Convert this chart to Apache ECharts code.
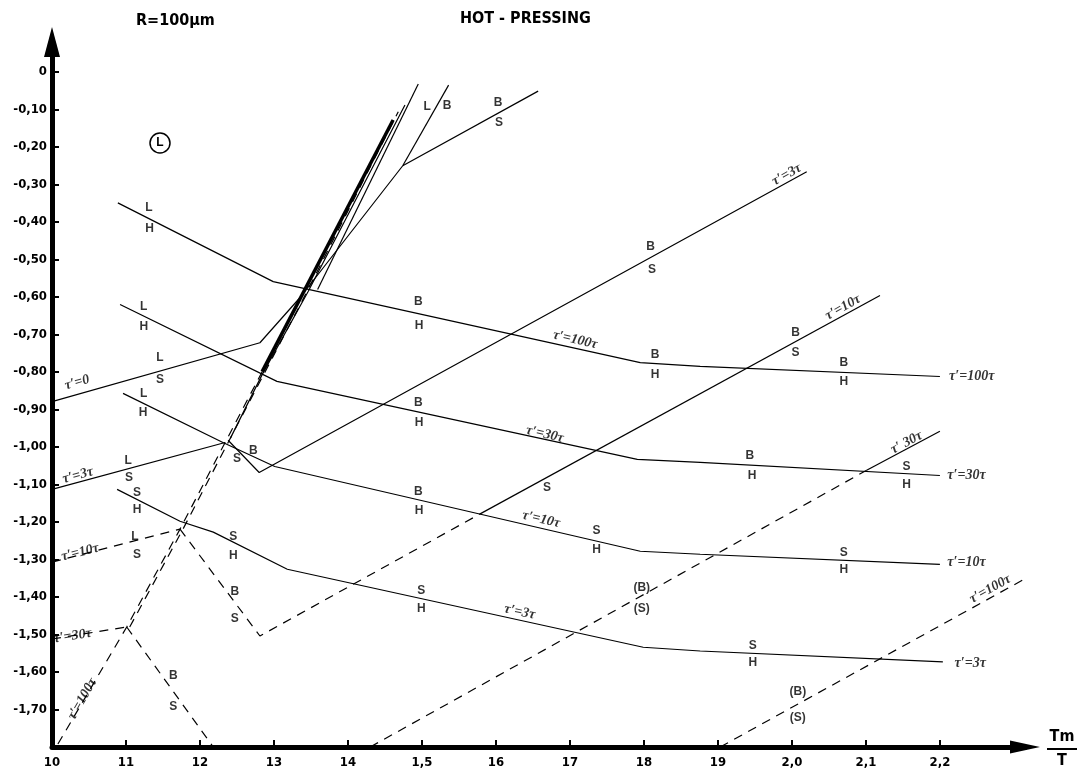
<!DOCTYPE html>
<html><head><meta charset="utf-8">
<script src="https://cdn.jsdelivr.net/npm/echarts@6/dist/echarts.min.js"></script>
<style>html,body{margin:0;padding:0;background:#fff}#c{width:1079px;height:769px}</style>
</head><body><div id="c"></div>
<script>
// ---- tick values & labels ----
const xTickValues = [1.0,1.1,1.2,1.3,1.4,1.5,1.6,1.7,1.8,1.9,2.0,2.1,2.2];
const xTickLabels = ['10','11','12','13','14','1,5','16','17','18','19','2,0','2,1','2,2'];
const yTickValues = [0,-0.1,-0.2,-0.3,-0.4,-0.5,-0.6,-0.7,-0.8,-0.9,-1.0,-1.1,-1.2,-1.3,-1.4,-1.5,-1.6,-1.7];
const yTickLabels = ['0','-0,10','-0,20','-0,30','-0,40','-0,50','-0,60','-0,70','-0,80','-0,90','-1,00','-1,10','-1,20','-1,30','-1,40','-1,50','-1,60','-1,70'];

// ---- L/H, B/H, S/H boundaries (descending) ----
const hLine100 = [[1.089,-0.349],[1.299,-0.559],[1.795,-0.775],[1.876,-0.785],[2.2,-0.812]];
const hLine30  = [[1.092,-0.620],[1.304,-0.825],[1.791,-1.033],[1.876,-1.041],[2.2,-1.076]];
const hLine10  = [[1.096,-0.857],[1.231,-0.988],[1.301,-1.052],[1.795,-1.278],[1.876,-1.286],[2.2,-1.313]];
const hLine3   = [[1.088,-1.113],[1.173,-1.198],[1.218,-1.227],[1.318,-1.326],[1.799,-1.534],[1.876,-1.544],[2.204,-1.573]];

// ---- tau'=0 ----
const ls0 = [[1.0,-0.879],[1.281,-0.722],[1.335,-0.602],[1.474,-0.250]];
const lb0 = [[1.474,-0.250],[1.536,-0.035]];
const bs0 = [[1.474,-0.250],[1.657,-0.051]];
// ---- tau'=3tau ----
const ls3 = [[1.0,-1.113],[1.234,-0.988]];
const bs3 = [[1.238,-0.982],[1.280,-1.068],[2.02,-0.266]];
// ---- tau'=10tau ----
const ls10 = [[1.0,-1.307],[1.173,-1.219]];
const bs10Dashed = [[1.173,-1.219],[1.281,-1.504],[1.578,-1.179]];
const bs10 = [[1.578,-1.179],[2.119,-0.596]];
// ---- tau'=30tau ----
const ls30 = [[1.0,-1.512],[1.101,-1.480]];
const bs30Low = [[1.101,-1.480],[1.218,-1.8]];
const bs30Dashed = [[1.430,-1.8],[2.101,-1.062]];
const bs30 = [[2.101,-1.062],[2.2,-0.958]];
// ---- tau'=100tau ----
const bs100Dashed = [[1.903,-1.8],[2.331,-1.334]];
// ---- steep bundle ----
const steep100 = [[1.008,-1.792],[1.101,-1.480],[1.173,-1.219],[1.234,-0.988],[1.335,-0.607],[1.461,-0.128]];
const steep30  = [[1.105,-1.480],[1.177,-1.219],[1.238,-0.988],[1.339,-0.607],[1.468,-0.106]];
const steep3   = [[1.241,-0.977],[1.284,-0.807],[1.346,-0.586],[1.477,-0.088]];
const steepTop = [[1.359,-0.580],[1.495,-0.032]];
const steepThick = [[1.284,-0.799],[1.461,-0.128]];

// ---- region letters ----
const letterLabels = [
[1.131,-0.362,'L'],[1.132,-0.418,'H'],
[1.124,-0.626,'L'],[1.124,-0.679,'H'],
[1.146,-0.761,'L'],[1.146,-0.820,'S'],
[1.124,-0.857,'L'],[1.123,-0.908,'H'],
[1.103,-1.036,'L'],[1.104,-1.081,'S'],
[1.115,-1.121,'S'],[1.115,-1.166,'H'],
[1.112,-1.238,'L'],[1.115,-1.286,'S'],
[1.250,-1.030,'S'],[1.272,-1.009,'B'],
[1.245,-1.238,'S'],[1.245,-1.291,'H'],
[1.247,-1.387,'B'],[1.247,-1.459,'S'],
[1.164,-1.611,'B'],[1.164,-1.693,'S'],
[1.507,-0.093,'L'],[1.534,-0.091,'B'],
[1.603,-0.083,'B'],[1.604,-0.136,'S'],
[1.809,-0.466,'B'],[1.811,-0.527,'S'],
[1.495,-0.612,'B'],[1.496,-0.676,'H'],
[1.815,-0.753,'B'],[1.815,-0.807,'H'],
[1.495,-0.881,'B'],[1.496,-0.935,'H'],
[1.669,-1.108,'S'],
[1.495,-1.118,'B'],[1.496,-1.171,'H'],
[1.736,-1.222,'S'],[1.736,-1.275,'H'],
[1.499,-1.384,'S'],[1.499,-1.432,'H'],
[1.797,-1.374,'(B)'],[1.797,-1.432,'(S)'],
[2.005,-0.695,'B'],[2.005,-0.748,'S'],
[2.070,-0.775,'B'],[2.070,-0.825,'H'],
[1.943,-1.022,'B'],[1.946,-1.076,'H'],
[2.155,-1.052,'S'],[2.155,-1.100,'H'],
[2.070,-1.281,'S'],[2.070,-1.326,'H'],
[1.947,-1.531,'S'],[1.947,-1.576,'H'],
[2.008,-1.653,'(B)'],[2.008,-1.723,'(S)']
];
// ---- tau' labels: x, y, text, rotation ----
const tauLabels = [
[1.034,-0.828,'τ′=0',16],
[1.035,-1.076,'τ′=3τ',15],
[1.038,-1.281,'τ′=10τ',14],
[1.028,-1.504,'τ′=30τ',9],
[1.041,-1.672,'τ′=100τ',60],
[1.707,-0.714,'τ′=100τ',-13],
[1.666,-0.966,'τ′=30τ',-13],
[1.661,-1.193,'τ′=10τ',-13],
[1.632,-1.440,'τ′=3τ',-12],
[1.993,-0.274,'τ′=3τ',29],
[2.069,-0.628,'τ′=10τ',29],
[2.155,-0.988,'τ′ 30τ',28],
[2.243,-0.812,'τ′=100τ',0],
[2.236,-1.076,'τ′=30τ',0],
[2.236,-1.307,'τ′=10τ',0],
[2.241,-1.576,'τ′=3τ',0],
[2.268,-1.379,'τ′=100τ',29]
];

const chart = echarts.init(document.getElementById('c'), null, {renderer:'canvas'});
const narrow = "'Liberation Sans Narrow','DejaVu Sans Condensed','Liberation Sans',sans-serif";
function ln(data, dashed, width) {
  return {type:'line', data, symbol:'none', showSymbol:false, silent:true, clip:false,
    lineStyle:{color:'#000', width: width || 1.2, type: dashed ? [9,7] : 'solid'}, z:3};
}
function findLabel(vals, labs, v) {
  const i = vals.findIndex(t => Math.abs(t - v) < 1e-6);
  return i < 0 ? '' : labs[i];
}
const series = [
  ln(hLine100), ln(hLine30), ln(hLine10), ln(hLine3),
  ln(ls0), ln(lb0), ln(bs0),
  ln(ls3), ln(bs3),
  ln(ls10, true), ln(bs10Dashed, true), ln(bs10),
  ln(ls30, true), ln(bs30Low, true), ln(bs30Dashed, true), ln(bs30),
  ln(bs100Dashed, true),
  ln(steep100, true), ln(steep30, true), ln(steep3), ln(steepTop), ln(steepThick, false, 3.5),
  {type:'scatter', silent:true, symbolSize:1, itemStyle:{color:'rgba(0,0,0,0)'}, z:5,
   data: letterLabels.map(d => ({value:[d[0], d[1]], label:{formatter:d[2]}})),
   label:{show:true, position:'inside', color:'#000', fontSize:12, fontWeight:'bold', fontFamily:"'Liberation Sans',sans-serif"}},
  {type:'scatter', silent:true, symbolSize:1, itemStyle:{color:'rgba(0,0,0,0)'}, z:5,
   data: tauLabels.map(d => ({value:[d[0], d[1]], label:{formatter:d[2], rotate:d[3]}})),
   label:{show:true, position:'inside', color:'#000', fontSize:14, fontStyle:'italic', fontWeight:'bold', fontFamily:"'Liberation Serif',serif"}}
];

chart.setOption({
  animation:false,
  backgroundColor:'#fff',
  grid:{left:52, top:42, width:973, height:706, containLabel:false},
  xAxis:{type:'value', min:1.0, max:2.315,
    axisLine:{show:true, onZero:false, symbol:['none','triangle'], symbolSize:[13,30], lineStyle:{color:'#000', width:5}},
    axisTick:{show:true, inside:true, length:7, lineStyle:{color:'#000', width:2}, customValues:xTickValues},
    axisLabel:{customValues:xTickValues, formatter:v => findLabel(xTickValues, xTickLabels, v), color:'#000', fontSize:13, fontWeight:'bold', fontFamily:narrow, margin:9},
    splitLine:{show:false}},
  yAxis:{type:'value', min:-1.8, max:0.08,
    axisLine:{show:true, onZero:false, symbol:['none','triangle'], symbolSize:[16,30], lineStyle:{color:'#000', width:5}},
    axisTick:{show:true, inside:true, length:7, lineStyle:{color:'#000', width:2}, customValues:yTickValues},
    axisLabel:{customValues:yTickValues, formatter:v => findLabel(yTickValues, yTickLabels, v), color:'#000', fontSize:13, fontWeight:'bold', fontFamily:narrow, margin:5},
    splitLine:{show:false}},
  series,
  graphic:[
    {type:'text', left:136, top:13, style:{text:'R=100µm', font:"bold 16px "+narrow, fill:'#000'}},
    {type:'text', left:460, top:11, style:{text:'HOT - PRESSING', font:"bold 16px "+narrow, fill:'#000'}},
    {type:'circle', shape:{cx:160, cy:143, r:10}, style:{stroke:'#000', fill:'none', lineWidth:1.5}},
    {type:'text', x:160, y:143, style:{text:'L', font:"bold 12px 'Liberation Sans',sans-serif", fill:'#000', align:'center', verticalAlign:'middle'}},
    {type:'text', x:1062, y:737, style:{text:'Tm', font:"bold 16px "+narrow, fill:'#000', align:'center', verticalAlign:'middle'}},
    {type:'line', shape:{x1:1047, y1:749, x2:1077, y2:749}, style:{stroke:'#000', lineWidth:2}},
    {type:'text', x:1062, y:761, style:{text:'T', font:"bold 16px "+narrow, fill:'#000', align:'center', verticalAlign:'middle'}}
  ]
});
</script></body></html>
